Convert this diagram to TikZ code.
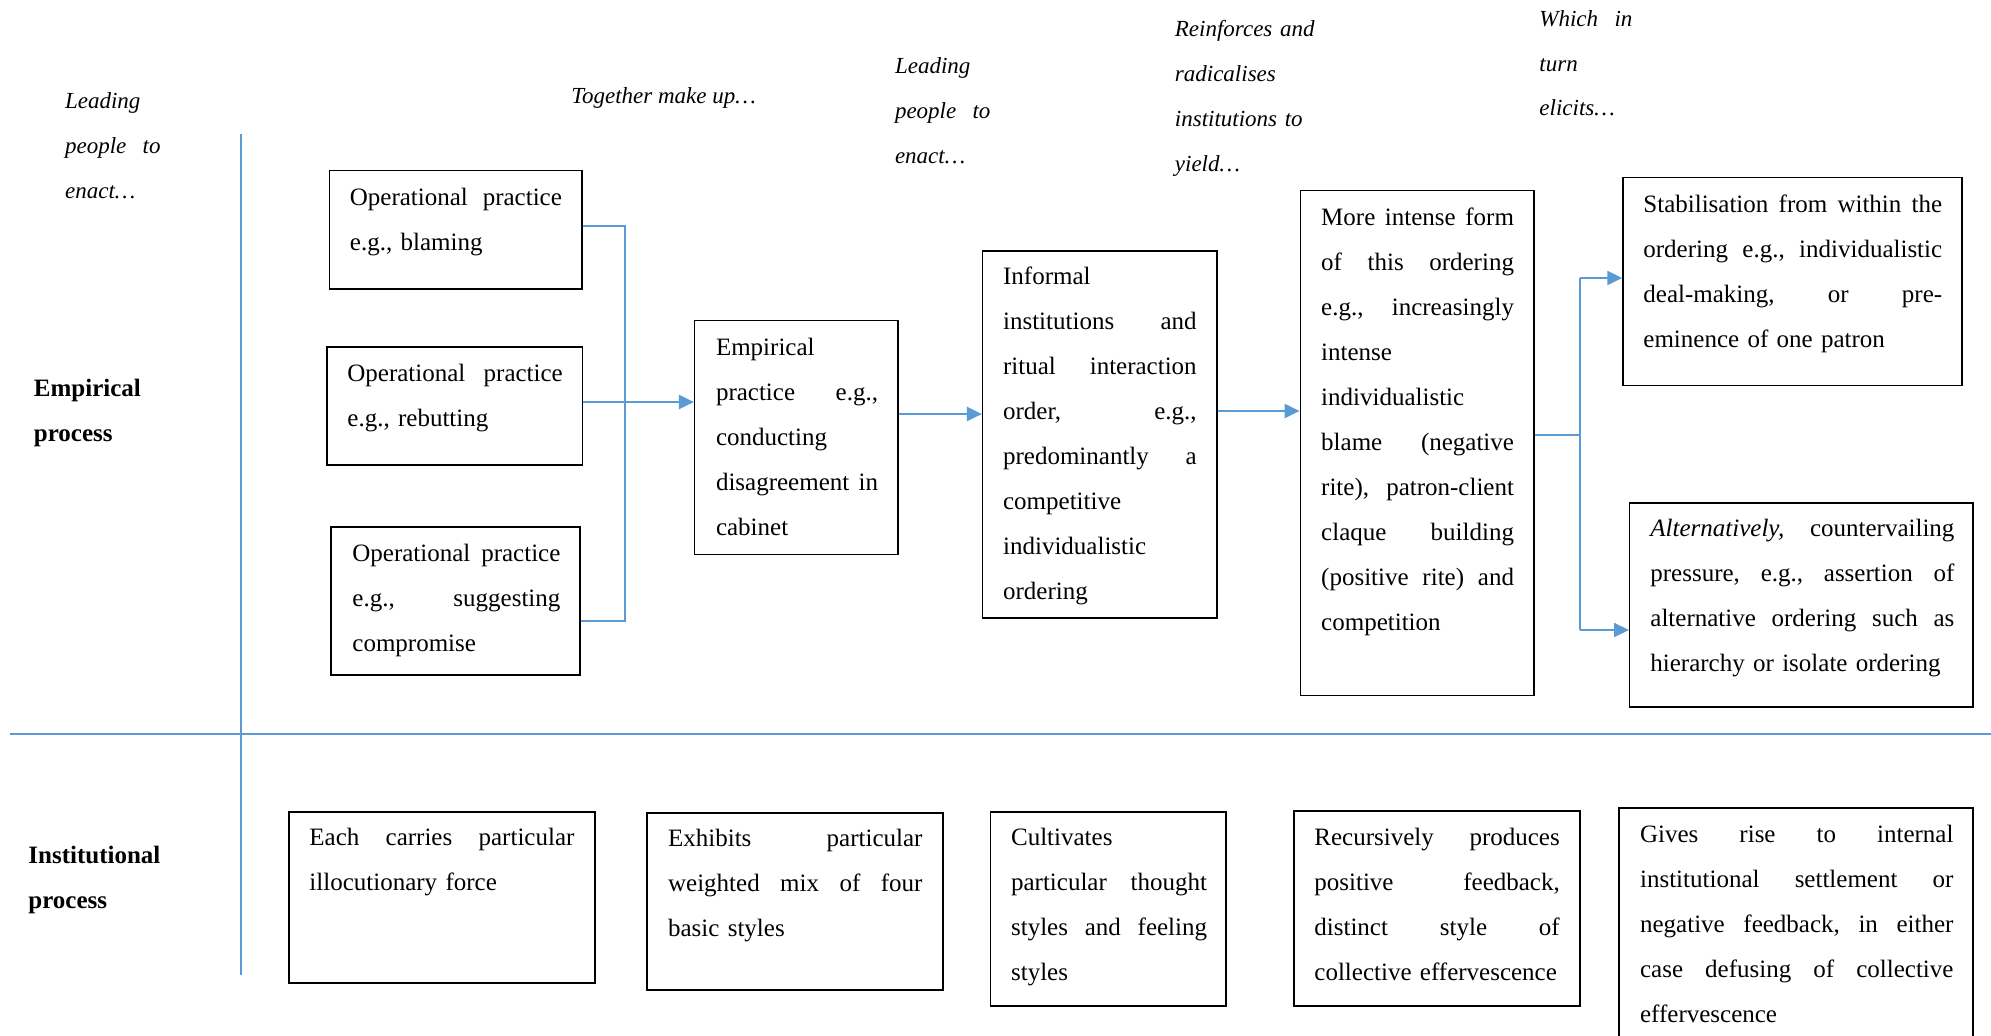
\documentclass[tikz,border=0pt]{standalone}
\usepackage{fontspec}
\setmainfont{Liberation Serif}
\usetikzlibrary{arrows.meta,fit}
\definecolor{lineblue}{HTML}{5B9BD5}
\newcommand{\jl}[1]{\leavevmode\hbox to \hsize{#1}}
\tikzset{
  box/.style={draw=black, line width=0.7pt, inner sep=0pt},
  txt/.style={anchor=base west, inner sep=0pt, align=left, font={\fontsize{12.5}{22.5}\selectfont}},
  lab/.style={anchor=base west, inner sep=0pt, align=left, font={\fontsize{11.5}{22.5}\selectfont\itshape}},
  blab/.style={anchor=base west, inner sep=0pt, align=left, font={\fontsize{12.5}{22.5}\selectfont\bfseries}},
  conn/.style={draw=lineblue, line width=0.8pt},
  arr/.style={draw=lineblue, line width=1.1pt, -{Triangle[length=7.5pt,width=7pt]}},
  divider/.style={draw=lineblue, line width=0.8pt},
}
\begin{document}
\begin{tikzpicture}[x=0.5pt,y=-0.5pt]
\useasboundingbox (0,0) rectangle (1991,1035);
\fill[white] (0,0) rectangle (1991,1035);
\clip (0,0) rectangle (1991,1035);

% dividers
\draw[divider] (10,734) -- (1991,734);
\draw[divider] (241,134) -- (241,975);

% side labels
\node[blab, text width=70pt] (lemp) at (33.5,396) {Empirical\\process};
\node[blab, text width=70pt] (linst) at (28,863) {Institutional\\process};

% italic labels
\node[lab, text width=47.7pt] (l1) at (64.7,108.5) {Leading\\\jl{people\hfil to}\\enact…};
\node[lab] (l2) at (571,103.6) {Together make up…};
\node[lab, text width=47.7pt] (l3) at (894.6,73.7) {Leading\\\jl{people\hfil to}\\enact…};
\node[lab, text width=80pt] (l4) at (1174.5,36.6) {Reinforces and\\radicalises\\institutions to\\yield…};
\node[lab, text width=46.5pt, font={\fontsize{11.5}{22.25}\selectfont\itshape}] (l5) at (1539,26.6) {\jl{Which\hfil in}\\turn\\elicits…};

% boxes (empirical row)
\node[box, fit={(329.5,170.5) (582,289)}] (op1) {};
\node[box, fit={(327,347) (582.6,465)}] (op2) {};
\node[box, fit={(331,527) (580,675)}] (op3) {};
\node[box, fit={(694.6,320.5) (897.8,554.5)}] (emp) {};
\node[box, fit={(982.6,251) (1217,618)}] (inf) {};
\node[box, fit={(1300.3,190.5) (1534,695.6)}] (mi) {};
\node[box, fit={(1623,177.7) (1962,385.7)}] (stab) {};
\node[box, fit={(1629.7,502.8) (1973,707)}] (alt) {};

% boxes (institutional row)
\node[box, fit={(289,812) (595,983)}] (each) {};
\node[box, fit={(647,813) (943,990)}] (exh) {};
\node[box, fit={(990.4,812) (1226,1006)}] (cult) {};
\node[box, fit={(1294,811) (1580,1006)}] (rec) {};
\node[box, fit={(1619,808) (1973,1060)}] (gives) {};

% texts
\node[txt, text width=106pt] (top1) at (349.5,205) {\jl{Operational\hfil practice}\\e.g., blaming};
\node[txt, text width=107.7pt] (top2) at (347,381.7) {\jl{Operational\hfil practice}\\e.g., rebutting};
\node[txt, text width=104pt] (top3) at (352,561) {\jl{Operational\hfil practice}\\\jl{e.g.,\hfil suggesting}\\compromise};
\node[txt, text width=81pt] (temp) at (715.6,355) {Empirical\\\jl{practice\hfil e.g.,}\\conducting\\\jl{disagreement\hfil in}\\cabinet};
\node[txt, text width=96.8pt] (tinf) at (1002.7,284.4) {Informal\\\jl{institutions\hfil and}\\\jl{ritual\hfil interaction}\\\jl{order,\hfil e.g.,}\\\jl{predominantly\hfil a}\\competitive\\individualistic\\ordering};
\node[txt, text width=96.4pt] (tmi) at (1320.8,225) {\jl{More\hfil intense\hfil form}\\\jl{of\hfil this\hfil ordering}\\\jl{e.g.,\hfil increasingly}\\intense\\individualistic\\\jl{blame\hfil (negative}\\\jl{rite),\hfil patron-client}\\\jl{claque\hfil building}\\\jl{(positive\hfil rite)\hfil and}\\competition};
\node[txt, text width=149.4pt] (tstab) at (1643,212) {\jl{Stabilisation\hfil from\hfil within\hfil the}\\\jl{ordering\hfil e.g.,\hfil individualistic}\\\jl{deal-making,\hfil or\hfil pre-}\\eminence of one patron};
\node[txt, text width=152pt] (talt) at (1650,536) {\jl{\textit{Alternatively,}\hfil countervailing}\\\jl{pressure,\hfil e.g.,\hfil assertion\hfil of}\\\jl{alternative\hfil ordering\hfil such\hfil as}\\hierarchy or isolate ordering};

\node[txt, text width=132.5pt] (teach) at (309,845.7) {\jl{Each\hfil carries\hfil particular}\\illocutionary force};
\node[txt, text width=127.2pt] (texh) at (667.7,846.7) {\jl{Exhibits\hfil particular}\\\jl{weighted\hfil mix\hfil of\hfil four}\\basic styles};
\node[txt, text width=98pt] (tcult) at (1010.7,845) {Cultivates\\\jl{particular\hfil thought}\\\jl{styles\hfil and\hfil feeling}\\styles};
\node[txt, text width=122.7pt] (trec) at (1314,845) {\jl{Recursively\hfil produces}\\\jl{positive\hfil feedback,}\\\jl{distinct\hfil style\hfil of}\\collective effervescence};
\node[txt, text width=156.7pt] (tgives) at (1639.7,842.7) {\jl{Gives\hfil rise\hfil to\hfil internal}\\\jl{institutional\hfil settlement\hfil or}\\\jl{negative\hfil feedback,\hfil in\hfil either}\\\jl{case\hfil defusing\hfil of\hfil collective}\\effervescence};

% connectors
\coordinate (j1) at (625,226);
\coordinate (j2) at (625,402);
\coordinate (j3) at (625,621);
\draw[conn] (op1.east |- j1) -- (j1) -- (j3) -- (op3.east |- j3);
\draw[conn] (op2.east |- j2) -- (j2);
\draw[arr] (j2) -- (emp.west |- j2);

\coordinate (r1) at (0,414);
\draw[arr] (emp.east |- r1) -- (inf.west |- r1);
\coordinate (r2) at (0,411);
\draw[arr] (inf.east |- r2) -- (mi.west |- r2);

\coordinate (k0) at (1580,435);
\coordinate (k1) at (1580,278);
\coordinate (k2) at (1580,630);
\draw[conn] (mi.east |- k0) -- (k0);
\draw[conn] (k1) -- (k2);
\draw[arr] (k1) -- (stab.west |- k1);
\draw[arr] (k2) -- (alt.west |- k2);
\end{tikzpicture}
\end{document}
